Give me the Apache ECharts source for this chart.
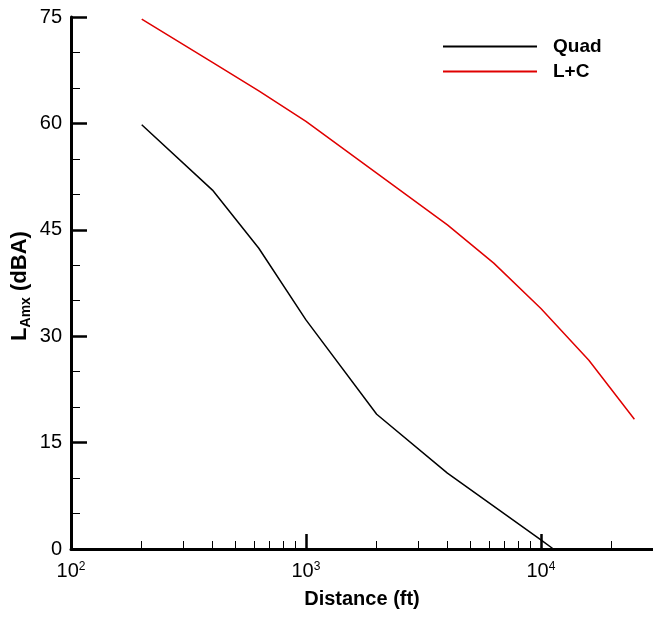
<!DOCTYPE html>
<html>
<head>
<meta charset="utf-8">
<script src="https://cdn.jsdelivr.net/npm/echarts@6/dist/echarts.min.js"></script>
<style>
html,body{margin:0;padding:0;background:#fff;}
#chart{width:653px;height:617px;}
</style>
</head>
<body>
<div id="chart"></div>
<script>
// Distance (ft) and L_Amx (dBA)
var quadDist = [200, 400, 630, 1000, 2000, 4000, 10000, 11300];
var quadVals = [59.8, 50.6, 42.4, 32.3, 19.0, 10.7, 1.3, 0];
var lcDist = [200, 400, 630, 1000, 2000, 4000, 6300, 10000, 16000, 25000];
var lcVals = [74.7, 68.6, 64.6, 60.3, 53.0, 45.7, 40.3, 33.9, 26.6, 18.3];
var xMajorTicks = [100, 1000, 10000];
var xMinorTicks = [200, 300, 400, 500, 600, 700, 800, 900, 2000, 3000, 4000, 5000, 6000, 7000, 8000, 9000, 20000];
var yTicks = [0, 15, 30, 45, 60, 75];
var seriesNames = ['Quad', 'L+C'];

function pairs(xs, ys) { return xs.map(function (x, i) { return [x, ys[i]]; }); }

var FONT = 'Liberation Sans, Arial, sans-serif';
var chart = echarts.init(document.getElementById('chart'));
chart.setOption({
  animation: false,
  backgroundColor: '#fff',
  grid: { left: 71, top: 17, right: 0, bottom: 68, containLabel: false },
  legend: {
    orient: 'vertical',
    left: 442, top: 37, padding: 0,
    itemWidth: 94, itemHeight: 14, itemGap: 6,
    data: seriesNames,
    itemStyle: { opacity: 0 },
    textStyle: { fontFamily: FONT, fontSize: 19, fontWeight: 'bold', color: '#000', padding: [0, 0, 0, 11] }
  },
  xAxis: [{
    type: 'log', logBase: 10, min: 100, max: 30000,
    axisLine: { show: true, lineStyle: { color: '#000', width: 3 } },
    axisTick: { show: true, inside: true, length: 15, customValues: xMajorTicks.slice(1), lineStyle: { color: '#000', width: 2.5 } },
    axisLabel: {
      show: true, margin: 12, customValues: xMajorTicks,
      formatter: function (v) { return '{b|10}{s|' + Math.round(Math.log10(v)) + '}'; },
      rich: {
        b: { fontFamily: FONT, fontSize: 20, color: '#000' },
        s: { fontFamily: FONT, fontSize: 12, color: '#000', verticalAlign: 'top' }
      }
    },
    splitLine: { show: false },
    name: 'Distance (ft)', nameLocation: 'middle', nameGap: 40,
    nameTextStyle: { fontFamily: FONT, fontSize: 20, fontWeight: 'bold', color: '#000' }
  }, {
    type: 'log', logBase: 10, min: 100, max: 30000, gridIndex: 0, position: 'bottom',
    axisLine: { show: false },
    axisTick: { show: true, inside: true, length: 8, customValues: xMinorTicks, lineStyle: { color: '#000', width: 1 } },
    axisLabel: { show: false },
    splitLine: { show: false }
  }],
  yAxis: {
    type: 'value', min: 0, max: 75, interval: 15,
    axisLine: { show: true, lineStyle: { color: '#000', width: 3 } },
    axisTick: { show: true, inside: true, length: 16, lineStyle: { color: '#000', width: 2.5 } },
    minorTick: { show: true, splitNumber: 3, length: 9, lineStyle: { color: '#000', width: 1 } },
    axisLabel: { margin: 9, fontFamily: FONT, fontSize: 20, color: '#000',
      formatter: function (v) { return yTicks.indexOf(v) >= 0 ? String(v) : ''; } },
    splitLine: { show: false }
  },
  graphic: [{
    type: 'text',
    x: 20, y: 286,
    rotation: Math.PI / 2,
    style: {
      text: '{L|L}{s|Amx}{L| (dBA)}',
      align: 'center', verticalAlign: 'middle',
      rich: {
        L: { fontFamily: FONT, fontSize: 22, fontWeight: 'bold', color: '#000', lineHeight: 26 },
        s: { fontFamily: FONT, fontSize: 14, fontWeight: 'bold', color: '#000', verticalAlign: 'bottom', lineHeight: 26 }
      }
    }
  }],
  series: [{
    name: 'Quad', type: 'line', xAxisIndex: 0, symbol: 'none', clip: true,
    data: pairs(quadDist, quadVals),
    lineStyle: { color: '#000', width: 1.5 }, itemStyle: { color: '#000' }
  }, {
    name: 'L+C', type: 'line', xAxisIndex: 0, symbol: 'none', clip: true,
    data: pairs(lcDist, lcVals),
    lineStyle: { color: '#e00000', width: 1.5 }, itemStyle: { color: '#e00000' }
  }]
});
</script>
</body>
</html>
